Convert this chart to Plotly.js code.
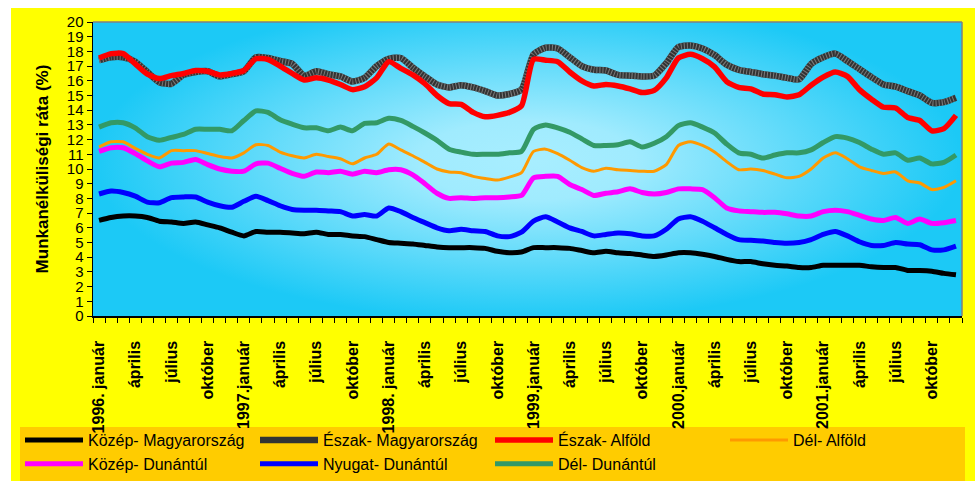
<!DOCTYPE html>
<html><head><meta charset="utf-8">
<script src="https://cdn.plot.ly/plotly-3.0.1.min.js"></script>
<style>html,body{margin:0;padding:0;background:#fff}#chart{width:975px;height:481px}</style>
</head><body><div id="chart"></div>
<script>
// ---- data (monthly, 1996 január – 2001 december) ----
const tickLabels = ['1996. január','április','július','október',
  '1997.január','április','július','október',
  '1998. január','április','július','október',
  '1999.január','április','július','október',
  '2000.január','április','július','október',
  '2001.január','április','július','október'];

const seriesNames = ['Közép- Magyarország','Észak- Magyarország','Észak- Alföld','Dél- Alföld',
  'Közép- Dunántúl','Nyugat- Dunántúl','Dél- Dunántúl'];

const kozepMagyarorszag = [6.5,6.7,6.8,6.8,6.7,6.45,6.4,6.3,6.4,6.2,6.0,5.7,
  5.45,5.75,5.7,5.7,5.65,5.6,5.7,5.55,5.55,5.45,5.4,5.2,
  5.0,4.95,4.9,4.8,4.7,4.65,4.65,4.65,4.6,4.4,4.3,4.35,
  4.65,4.65,4.65,4.6,4.45,4.3,4.4,4.3,4.25,4.15,4.05,4.15,
  4.3,4.3,4.2,4.05,3.85,3.7,3.7,3.55,3.45,3.4,3.3,3.3,
  3.45,3.45,3.45,3.45,3.35,3.3,3.3,3.1,3.1,3.05,2.9,2.8];

const eszakMagyarorszag = [17.4,17.6,17.6,17.3,16.6,15.9,15.8,16.4,16.6,16.65,16.3,16.45,
  16.65,17.6,17.55,17.35,17.15,16.35,16.65,16.45,16.3,15.95,16.2,17.0,
  17.5,17.55,16.9,16.3,15.75,15.55,15.7,15.55,15.3,15.0,15.1,15.4,
  17.8,18.25,18.2,17.6,17.0,16.75,16.7,16.4,16.35,16.3,16.35,17.2,
  18.3,18.4,18.2,17.75,17.1,16.75,16.6,16.45,16.35,16.2,16.1,17.15,
  17.6,17.85,17.35,16.8,16.25,15.75,15.6,15.3,15.0,14.5,14.55,14.85];

const eszakAlfold = [17.55,17.85,17.85,17.15,16.45,16.15,16.35,16.5,16.7,16.65,16.4,16.5,
  16.7,17.5,17.45,17.0,16.5,16.05,16.2,16.05,15.75,15.4,15.6,16.2,
  17.3,16.85,16.4,15.8,15.0,14.45,14.4,13.85,13.55,13.65,13.85,14.3,
  17.45,17.4,17.3,16.6,16.0,15.65,15.75,15.65,15.45,15.2,15.35,16.2,
  17.55,17.8,17.5,16.95,15.95,15.55,15.45,15.1,15.05,14.9,15.05,15.7,
  16.25,16.6,16.3,15.4,14.75,14.2,14.15,13.5,13.3,12.6,12.75,13.65];

const delAlfold = [11.5,11.85,11.85,11.4,11.0,10.75,11.25,11.25,11.25,11.05,10.85,10.75,
  11.1,11.65,11.6,11.15,10.9,10.75,11.0,10.85,10.7,10.35,10.75,11.0,
  11.7,11.3,10.9,10.45,10.0,9.8,9.75,9.5,9.35,9.25,9.45,9.75,
  11.2,11.35,11.05,10.6,10.1,9.85,10.05,9.95,9.9,9.85,9.85,10.3,
  11.6,11.85,11.6,11.15,10.5,9.95,10.0,9.9,9.65,9.4,9.5,10.0,
  10.75,11.1,10.7,10.15,9.9,9.7,9.8,9.2,9.05,8.6,8.75,9.2];

const kozepDunantul = [11.2,11.45,11.45,11.05,10.55,10.15,10.4,10.45,10.65,10.3,10.0,9.85,
  9.85,10.35,10.4,10.05,9.7,9.5,9.8,9.75,9.85,9.65,9.85,9.75,
  9.95,9.95,9.6,9.0,8.35,8.0,8.05,8.0,8.05,8.05,8.1,8.2,
  9.4,9.5,9.5,8.95,8.6,8.2,8.35,8.45,8.65,8.4,8.3,8.4,
  8.65,8.65,8.6,8.05,7.35,7.15,7.1,7.05,7.05,6.95,6.8,6.8,
  7.1,7.2,7.1,6.85,6.6,6.5,6.7,6.3,6.6,6.3,6.35,6.5];

const nyugatDunantul = [8.3,8.5,8.4,8.15,7.75,7.7,8.05,8.1,8.1,7.75,7.5,7.4,
  7.8,8.15,7.85,7.5,7.25,7.2,7.2,7.15,7.1,6.8,6.9,6.8,
  7.35,7.1,6.7,6.35,6.0,5.8,5.9,5.8,5.75,5.45,5.4,5.7,
  6.45,6.75,6.4,6.0,5.75,5.45,5.55,5.65,5.6,5.45,5.45,5.9,
  6.6,6.75,6.45,6.0,5.55,5.2,5.15,5.1,5.0,4.95,5.0,5.2,
  5.55,5.75,5.45,5.05,4.8,4.8,5.0,4.9,4.85,4.5,4.5,4.75];

const delDunantul = [12.85,13.15,13.15,12.8,12.2,11.95,12.15,12.35,12.7,12.7,12.7,12.6,
  13.3,13.95,13.85,13.35,13.05,12.8,12.8,12.6,12.85,12.6,13.1,13.15,
  13.45,13.3,12.9,12.45,11.95,11.35,11.15,11.0,11.0,11.0,11.1,11.2,
  12.7,13.0,12.8,12.5,12.05,11.6,11.6,11.65,11.85,11.5,11.75,12.2,
  12.95,13.15,12.85,12.45,11.7,11.1,11.0,10.75,10.95,11.1,11.1,11.3,
  11.8,12.2,12.1,11.8,11.35,11.0,11.1,10.6,10.75,10.35,10.45,10.95];

// ---- geometry helpers (pixel -> paper) ----
const W = 975, H = 481, ML = 93, MR = 13, MT = 22, MB = 165;
const PW = W - ML - MR, PH = H - MT - MB;
const px = x => (x - ML) / PW;
const py = y => (H - MB - y) / PH;

const monthIndex = kozepMagyarorszag.map((_, i) => i);
const FONT = 'Arial, "Liberation Sans", sans-serif';

function gradientURL() {
  const c = document.createElement('canvas');
  c.width = PW; c.height = PH;
  const ctx = c.getContext('2d');
  ctx.fillStyle = '#1CC9F6';
  ctx.fillRect(0, 0, PW, PH);
  ctx.save();
  ctx.translate(PW * 0.5, PH * 0.47);
  ctx.scale(PW * 0.5, PH * 0.55);
  const g = ctx.createRadialGradient(0, 0, 0, 0, 0, 1.0);
  g.addColorStop(0, '#A8EEFF');
  g.addColorStop(0.25, '#A0EBFE');
  g.addColorStop(1, '#1CC9F6');
  ctx.fillStyle = g;
  ctx.fillRect(-2, -2, 4, 4);
  ctx.restore();
  return c.toDataURL('image/png');
}

function line(name, y, color, width, extra) {
  return Object.assign({
    type: 'scatter', mode: 'lines', name: name, x: monthIndex, y: y,
    line: {color: color, width: width, shape: 'spline', smoothing: 0.6},
    hoverinfo: 'name+y'
  }, extra || {});
}

const traces = [
  line(seriesNames[0], kozepMagyarorszag, '#000000', 5),
  line(seriesNames[1], eszakMagyarorszag, '#333333', 6.5),
  line(seriesNames[1], eszakMagyarorszag, '#7a7a7a', 6.5, {showlegend: false}),
  line(seriesNames[2], eszakAlfold, '#FF0000', 5.5),
  line(seriesNames[3], delAlfold, '#FF9900', 3),
  line(seriesNames[4], kozepDunantul, '#FF00FF', 5),
  line(seriesNames[5], nyugatDunantul, '#0000FF', 5),
  line(seriesNames[6], delDunantul, '#339966', 5)
];
traces[2].line.dash = '1px,2px';

const layout = {
  width: W, height: H,
  margin: {l: ML, r: MR, t: MT, b: MB, pad: 0, autoexpand: false},
  paper_bgcolor: '#FFFF00',
  plot_bgcolor: '#1CC9F6',
  font: {family: FONT, color: '#000'},
  showlegend: true,
  xaxis: {
    type: 'linear', range: [-0.5, monthIndex.length - 0.5], fixedrange: true, automargin: false,
    tickmode: 'array', tickvals: tickLabels.map((_, k) => k * 3), ticktext: tickLabels,
    tickangle: -90, ticks: 'outside', ticklen: 10, tickcolor: 'rgba(0,0,0,0)',
    ticklabelstandoff: 7,
    tickfont: {size: 16, family: FONT, weight: 'bold'},
    showgrid: false, zeroline: false,
    showline: true, linecolor: '#000', linewidth: 1.5,
    minor: {tickmode: 'array', tickvals: Array.from({length: monthIndex.length + 1}, (_, k) => k - 0.5),
            ticks: 'outside', ticklen: 5, tickcolor: '#000', tickwidth: 1, showgrid: false}
  },
  yaxis: {
    range: [0, 20], dtick: 1, tick0: 0, fixedrange: true, automargin: false,
    ticks: 'outside', ticklen: 5, tickcolor: '#000',
    tickfont: {size: 15, family: FONT},
    showgrid: false, zeroline: false,
    showline: true, linecolor: '#000', linewidth: 1.5,
    title: {text: 'Munkanélküliségi ráta (%)', font: {size: 17, family: FONT, weight: 'bold'}, standoff: 14}
  },
  legend: {
    orientation: 'h', xref: 'paper', yref: 'paper',
    x: px(20), y: py(423), xanchor: 'left', yanchor: 'top',
    bgcolor: 'rgba(0,0,0,0)', borderwidth: 0,
    font: {size: 16, family: FONT},
    itemwidth: 58, entrywidth: 162, entrywidthmode: 'pixels',
    traceorder: 'normal', itemclick: false, itemdoubleclick: false
  },
  images: [{source: gradientURL(), xref: 'paper', yref: 'paper', x: 0, y: 1,
            sizex: 1, sizey: 1, sizing: 'stretch', xanchor: 'left', yanchor: 'top', layer: 'below'}],
  shapes: [
    {type: 'rect', xref: 'paper', yref: 'paper', x0: px(0), x1: px(W), y0: py(8), y1: py(0),
     fillcolor: '#FFFFFF', line: {width: 0}, layer: 'below'},
    {type: 'rect', xref: 'paper', yref: 'paper', x0: px(0), x1: px(11), y0: py(H), y1: py(0),
     fillcolor: '#FFFFFF', line: {width: 0}, layer: 'below'},
    {type: 'rect', xref: 'paper', yref: 'paper', x0: px(20), x1: px(965), y0: py(H), y1: py(427),
     fillcolor: '#FFCC00', line: {width: 0}, layer: 'below'},
    {type: 'line', xref: 'paper', yref: 'paper', x0: 0, x1: 1, y0: 1, y1: 1,
     line: {color: '#808080', width: 1.5}, layer: 'above'},
    {type: 'line', xref: 'paper', yref: 'paper', x0: 1, x1: 1, y0: 0, y1: 1,
     line: {color: '#808080', width: 1.5}, layer: 'above'}
  ]
};

Plotly.newPlot('chart', traces, layout, {displayModeBar: false, staticPlot: true});
</script></body></html>
